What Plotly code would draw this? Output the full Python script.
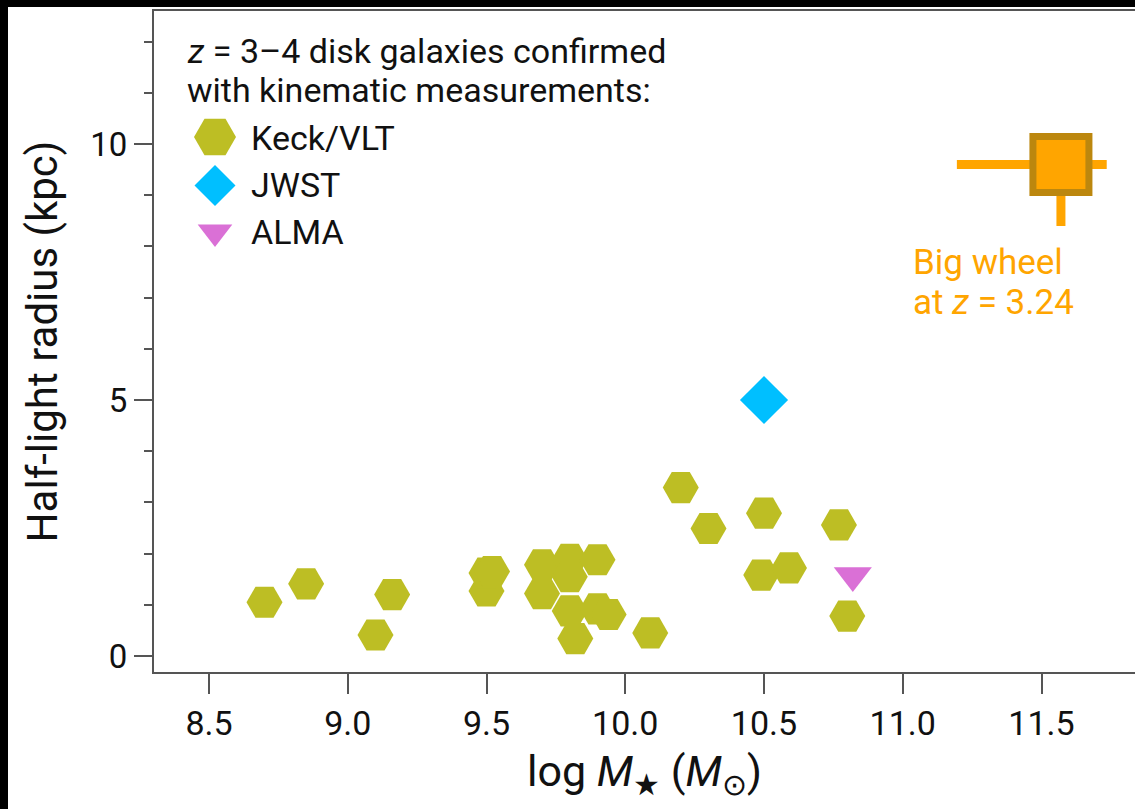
import plotly.graph_objects as go

# ---------------- data ----------------
keck_x = [8.70, 8.85, 9.10, 9.16, 9.50, 9.50, 9.52, 9.70, 9.70, 9.80, 9.80, 9.90,
          9.80, 9.90, 9.94, 9.82, 10.09, 10.20, 10.30, 10.50, 10.77, 10.49, 10.59, 10.80]
keck_y = [1.05, 1.41, 0.41, 1.20, 1.27, 1.62, 1.65, 1.78, 1.22, 1.89, 1.55, 1.88,
          0.88, 0.92, 0.81, 0.34, 0.45, 3.29, 2.49, 2.79, 2.56, 1.58, 1.72, 0.78]
jwst_x = [10.50]
jwst_y = [5.00]
alma_x = [10.82]
alma_y = [1.57]
bw_x = [11.57]
bw_y = [9.60]
bw_xerr_plus = [0.165]
bw_xerr_minus = [0.375]
bw_yerr_plus = [0.5]
bw_yerr_minus = [1.2]

x_ticks = [8.5, 9.0, 9.5, 10.0, 10.5, 11.0, 11.5]
x_ticklabels = ["8.5", "9.0", "9.5", "10.0", "10.5", "11.0", "11.5"]
y_ticks = [0, 5, 10]
y_ticklabels = ["0", "5", "10"]
y_minor = [1, 2, 3, 4, 6, 7, 8, 9, 11, 12]

legend_labels = ["Keck/VLT", "JWST", "ALMA"]

# ---------------- style ----------------
C_KECK = "#BDBE24"
C_JWST = "#00BFFF"
C_ALMA = "#DA70D6"
C_BW = "#FFA500"
C_BW_EDGE = "#BC870E"
AX = "#555555"
FONT = "Roboto"
TXT = "#111111"

W, H = 1135, 809
ML, MR, MT, MB = 154, 0, 11, 137
PW = W - ML - MR
PH = H - MT - MB

fig = go.Figure()

fig.add_trace(go.Scatter(
    x=keck_x, y=keck_y, mode="markers", name="Keck/VLT",
    marker=dict(symbol="hexagon2", size=36, color=C_KECK, line=dict(width=0))))
fig.add_trace(go.Scatter(
    x=jwst_x, y=jwst_y, mode="markers", name="JWST",
    marker=dict(symbol="diamond", size=37, color=C_JWST, line=dict(width=0))))
fig.add_trace(go.Scatter(
    x=alma_x, y=alma_y, mode="markers", name="ALMA",
    marker=dict(symbol="triangle-down", size=33, color=C_ALMA, line=dict(width=0))))
fig.add_trace(go.Scatter(
    x=bw_x, y=bw_y, mode="markers", name="Big wheel",
    marker=dict(symbol="square", size=56, color=C_BW, line=dict(width=7, color=C_BW_EDGE)),
    error_x=dict(type="data", symmetric=False, array=bw_xerr_plus, arrayminus=bw_xerr_minus,
                 thickness=9, width=0, color=C_BW),
    error_y=dict(type="data", symmetric=False, array=bw_yerr_plus, arrayminus=bw_yerr_minus,
                 thickness=9, width=0, color=C_BW)))

# legend key (pixel-space overlay axes)
leg_x = 215
leg_y = [137, 185.5, 232]
leg_sym = ["hexagon2", "diamond", "triangle-down"]
leg_size = [42, 31.5, 30]
leg_col = [C_KECK, C_JWST, C_ALMA]
for i in range(3):
    fig.add_trace(go.Scatter(
        x=[leg_x], y=[leg_y[i]], xaxis="x2", yaxis="y2", mode="markers",
        marker=dict(symbol=leg_sym[i], size=leg_size[i], color=leg_col[i], line=dict(width=0)),
        hoverinfo="skip", showlegend=False))

ann = []
hdr = ["<i>z</i> = 3–4 disk galaxies confirmed", "with kinematic measurements:"]
hdr_y = [51, 90]
for t, yy in zip(hdr, hdr_y):
    ann.append(dict(text=t, x=185, y=yy, xref="x2", yref="y2", xanchor="left", yanchor="middle",
                    showarrow=False, font=dict(family=FONT, size=34, color=TXT)))
for t, yy in zip(legend_labels, [138, 185, 232]):
    ann.append(dict(text=t, x=249, y=yy, xref="x2", yref="y2", xanchor="left", yanchor="middle",
                    showarrow=False, font=dict(family=FONT, size=34, color=TXT)))
for t, yy in zip(["Big wheel", "at <i>z</i> = 3.24"], [262, 302]):
    ann.append(dict(text=t, x=911, y=yy, xref="x2", yref="y2", xanchor="left", yanchor="middle",
                    showarrow=False, font=dict(family=FONT, size=35, color=C_BW)))

shapes = [
    dict(type="rect", xref="paper", yref="paper", layer="above",
         x0=-ML / PW, x1=(8 - ML) / PW, y0=-MB / PH, y1=(PH + MT) / PH,
         fillcolor="black", line=dict(width=0)),
    dict(type="rect", xref="paper", yref="paper", layer="above",
         x0=-ML / PW, x1=1.01, y0=(PH + MT - 7) / PH, y1=(PH + MT) / PH,
         fillcolor="black", line=dict(width=0)),
]

fig.update_layout(
    width=W, height=H,
    margin=dict(l=ML, r=MR, t=MT, b=MB, pad=0),
    paper_bgcolor="white", plot_bgcolor="white",
    showlegend=False,
    font=dict(family=FONT, size=34, color=TXT),
    annotations=ann, shapes=shapes,
    xaxis=dict(range=[8.3018, 11.8369], tickmode="array", tickvals=x_ticks, ticktext=x_ticklabels,
               ticks="outside", ticklen=20, tickwidth=2, tickcolor=AX,
               showline=True, linecolor=AX, linewidth=2, mirror=True,
               showgrid=False, zeroline=False,
               tickfont=dict(family=FONT, size=34, color=TXT),
               title=dict(text="log <i>M</i><sub>★</sub> (<i>M</i><sub>⊙</sub>)",
                          font=dict(family=FONT, size=43, color=TXT), standoff=14)),
    yaxis=dict(range=[-0.3125, 12.598], tickmode="array", tickvals=y_ticks, ticktext=y_ticklabels,
               ticks="outside", ticklen=18, tickwidth=2, tickcolor=AX,
               minor=dict(tickmode="array", tickvals=y_minor, ticks="outside", ticklen=8,
                          tickwidth=2, tickcolor=AX, showgrid=False),
               showline=True, linecolor=AX, linewidth=2, mirror=False,
               showgrid=False, zeroline=False,
               tickfont=dict(family=FONT, size=33, color=TXT),
               title=dict(text="Half-light radius (kpc)",
                          font=dict(family=FONT, size=42, color=TXT), standoff=20)),
    xaxis2=dict(overlaying="x", anchor="y2", range=[ML, W - MR], visible=False),
    yaxis2=dict(overlaying="y", anchor="x2", range=[H - MB, MT], visible=False),
)

fig.write_html("out.html")
